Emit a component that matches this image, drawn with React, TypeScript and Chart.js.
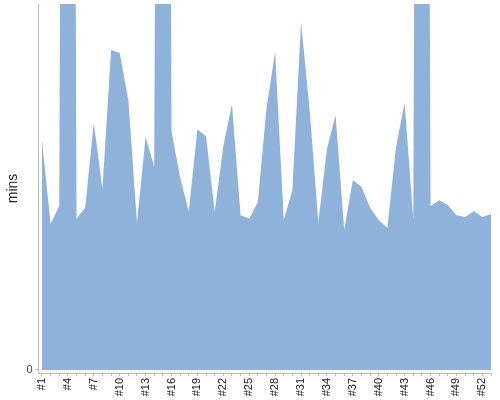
import React, { useEffect, useRef } from "react";
import { Chart, registerables } from "chart.js";

Chart.register(...registerables);

const categories: string[] = [
  "#1", "#2", "#3", "#4", "#5", "#6", "#7", "#8", "#9", "#10",
  "#11", "#12", "#13", "#14", "#15", "#16", "#17", "#18", "#19", "#20",
  "#21", "#22", "#23", "#24", "#25", "#26", "#27", "#28", "#29", "#30",
  "#31", "#32", "#33", "#34", "#35", "#36", "#37", "#38", "#39", "#40",
  "#41", "#42", "#43", "#44", "#45", "#46", "#47", "#48", "#49", "#50",
  "#51", "#52", "#53",
];

const minsValues: number[] = [
  62.8, 39.9, 44.8, 700, 41.3, 44.3, 67.5, 49.5, 87.4, 86.6,
  73.8, 40.2, 63.7, 55.5, 700, 65.3, 52.5, 43.4, 65.8, 63.9,
  43.2, 61.2, 72.7, 42.3, 41.3, 45.9, 71.6, 86.9, 41.0, 49.2,
  95.1, 71.0, 40.4, 60.4, 69.7, 38.3, 51.9, 50.0, 44.3, 41.0,
  38.8, 60.9, 73.0, 41.0, 700, 44.8, 46.4, 45.1, 42.3, 41.8,
  43.4, 41.8, 42.6,
];

const yTickValues: number[] = [0];
const labelEvery = 3;

const zeroPad = (scale: any) => {
  scale.paddingLeft = 0;
  scale.paddingRight = 0;
  scale.paddingTop = 0;
  scale.paddingBottom = 0;
};

export default function App() {
  const canvasRef = useRef<HTMLCanvasElement | null>(null);

  useEffect(() => {
    if (!canvasRef.current) return;
    const points = minsValues.map((v, i) => ({ x: i + 1, y: v }));
    const chart = new Chart(canvasRef.current, {
      type: "line",
      data: {
        datasets: [
          {
            label: "mins",
            data: points,
            fill: "origin",
            backgroundColor: "rgb(143,178,219)",
            borderWidth: 0,
            borderColor: "rgba(0,0,0,0)",
            pointRadius: 0,
            tension: 0,
          },
        ],
      },
      options: {
        animation: false,
        responsive: true,
        maintainAspectRatio: false,
        layout: { padding: { top: 4, right: 9, left: 0, bottom: 0 } },
        plugins: {
          legend: { display: false },
          tooltip: { enabled: false },
        },
        scales: {
          x: {
            type: "linear",
            min: 0.595,
            max: categories.length,
            afterBuildTicks: (scale: any) => {
              scale.ticks = categories.map((_, i) => ({ value: i + 1 }));
            },
            afterFit: (scale: any) => {
              scale.height = 27;
              zeroPad(scale);
            },
            ticks: {
              autoSkip: false,
              minRotation: 90,
              maxRotation: 90,
              padding: 2,
              color: "#222",
              font: { family: "Liberation Sans", size: 11 },
              callback: (v: any) => {
                const i = Math.round(Number(v)) - 1;
                return i % labelEvery === 0 ? categories[i] : "";
              },
            },
            grid: {
              drawOnChartArea: false,
              drawTicks: true,
              tickLength: 3,
              color: "#bbb",
            },
            border: { display: true, color: "#bbb" },
          },
          y: {
            min: -0.82,
            max: 100,
            afterBuildTicks: (scale: any) => {
              scale.ticks = yTickValues.map((v) => ({ value: v }));
            },
            afterFit: (scale: any) => {
              scale.width = 38.5;
              zeroPad(scale);
            },
            ticks: {
              padding: 3,
              color: "#444",
              font: { family: "Liberation Sans", size: 11 },
            },
            grid: {
              drawOnChartArea: false,
              drawTicks: true,
              tickLength: 3,
              color: "#bbb",
            },
            border: { display: true, color: "#bbb" },
            title: {
              display: true,
              text: "mins",
              color: "#222",
              font: { family: "Liberation Sans", size: 14 },
              padding: { top: 5, bottom: 0 },
            },
          },
        },
      },
    });
    return () => chart.destroy();
  }, []);

  return (
    <div style={{ position: "fixed", left: 0, top: 0, width: 500, height: 400 }}>
      <canvas ref={canvasRef} />
    </div>
  );
}
